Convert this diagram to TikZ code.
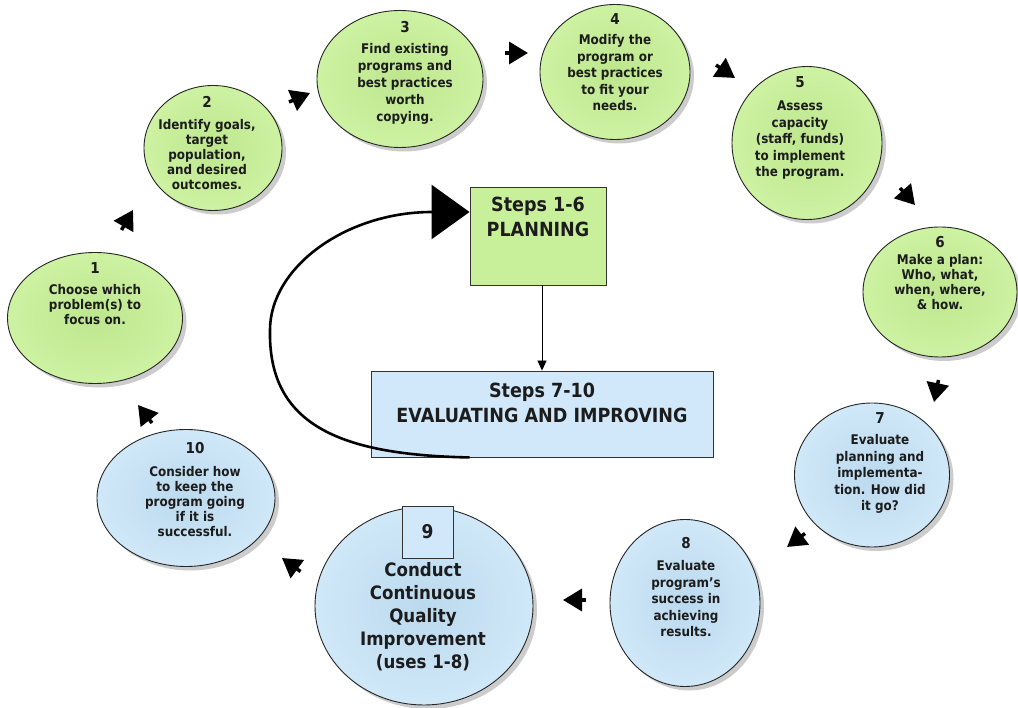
\documentclass[tikz,border=0pt]{standalone}
\usepackage{fontspec}
\setmainfont{DejaVu Sans}[FakeStretch=0.9]
\usetikzlibrary{arrows.meta,shadows,shapes.geometric,calc}
\definecolor{cgreen}{HTML}{CDF2A2}
\definecolor{cgreenin}{HTML}{BEE68E}
\definecolor{cblue}{HTML}{D0E8F8}
\definecolor{cbluein}{HTML}{BBD9EE}
\definecolor{bgreen}{HTML}{C8F09A}
\definecolor{bblue}{HTML}{D0E8F9}
\definecolor{txt}{HTML}{1C1C1C}
\tikzset{
  stepcircle/.style={ellipse, draw=black!85, line width=0.9pt, inner sep=0pt,
    drop shadow={opacity=0.4, shadow xshift=4pt, shadow yshift=-4pt}},
  greenc/.style={stepcircle, inner color=cgreenin, outer color=cgreen},
  bluec/.style={stepcircle, inner color=cbluein, outer color=cblue},
  steptext/.style={align=center, text=txt, inner sep=0pt},
  bigtext/.style={align=center, text=txt, inner sep=0pt,
    font=\bfseries\fontsize{19.5}{24.5}\selectfont},
  phasebox/.style={draw=black!80, line width=0.9pt, inner sep=0pt},
  flowtip/.style={line width=3.5pt, -{Triangle[length=19pt,width=22pt]}},
}
\newcommand{\stepnum}[1]{{\fontsize{15}{15}\selectfont #1}}
\begin{document}
\begin{tikzpicture}[x=1pt,y=-1pt]
\useasboundingbox (0,0) rectangle (1018,708);
\fill[white] (0,0) rectangle (1018,708);

% circles
\node[greenc, minimum width=175pt, minimum height=131pt] (c1) at (95,318) {};
\node[greenc, minimum width=138pt, minimum height=125pt] (c2) at (213,148) {};
\node[greenc, minimum width=166pt, minimum height=137pt] (c3) at (400,79) {};
\node[greenc, minimum width=150pt, minimum height=135pt] (c4) at (615,72) {};
\node[greenc, minimum width=150pt, minimum height=153pt] (c5) at (807,143) {};
\node[greenc, minimum width=154pt, minimum height=130pt] (c6) at (940,292) {};
\node[bluec, minimum width=155pt, minimum height=144pt] (c7) at (872,475) {};
\node[bluec, minimum width=150pt, minimum height=167pt] (c8) at (685,603) {};
\node[bluec, minimum width=218pt, minimum height=198pt] (c9) at (424,606) {};
\node[bluec, minimum width=178pt, minimum height=137pt] (c10) at (186,498) {};

% circle texts
\node[steptext, font=\bfseries\fontsize{13.3}{15}\selectfont] (t1) at (95,294)
  {\stepnum{1}\\[6pt]Choose which\\problem(s) to\\focus on.};
\node[steptext, font=\bfseries\fontsize{13.3}{15}\selectfont] (t2) at (207,143)
  {\stepnum{2}\\[7pt]Identify goals,\\target\\population,\\and desired\\outcomes.};
\node[steptext, font=\bfseries\fontsize{13.3}{17}\selectfont] (t3) at (405,73)
  {\stepnum{3}\\[4pt]Find existing\\programs and\\best practices\\worth\\copying.};
\node[steptext, font=\bfseries\fontsize{13.3}{16.5}\selectfont] (t4) at (615,62)
  {\stepnum{4}\\[4pt]Modify the\\program or\\best practices\\to fit your\\needs.};
\node[steptext, font=\bfseries\fontsize{13.3}{16.5}\selectfont] (t5) at (800,128)
  {\stepnum{5}\\[7pt]Assess\\capacity\\(staff, funds)\\to implement\\the program.};
\node[steptext, font=\bfseries\fontsize{13.3}{15}\selectfont] (t6) at (940,273)
  {\stepnum{6}\\[2pt]Make a plan:\\Who, what,\\when, where,\\\& how.};
\node[steptext, font=\bfseries\fontsize{13.3}{16.5}\selectfont] (t7) at (880,463)
  {\stepnum{7}\\[5pt]Evaluate\\planning and\\implementa-\\tion. How did\\it go?};
\node[steptext, font=\bfseries\fontsize{13.3}{16.5}\selectfont] (t8) at (686,587)
  {\stepnum{8}\\[6pt]Evaluate\\program's\\success in\\achieving\\results.};
\node[steptext, font=\bfseries\fontsize{13.3}{15}\selectfont] (t10) at (195,490)
  {\stepnum{10}\\[8pt]Consider how\\to keep the\\program going\\if it is\\successful.};
\node[steptext, font=\bfseries\fontsize{18.5}{23}\selectfont] (t9) at (423,617)
  {Conduct\\Continuous\\Quality\\Improvement\\(uses 1-8)};
\node[phasebox, fill=bblue, minimum width=51pt, minimum height=52pt,
      font=\bfseries\fontsize{19}{20}\selectfont, text=txt] (n9) at (427.5,532) {9};

% central boxes
\node[phasebox, fill=bgreen, minimum width=136pt, minimum height=98pt] (plan) at (538,236) {};
\node[bigtext] (plantext) at (538,217) {Steps 1-6\\PLANNING};
\node[phasebox, fill=bblue, minimum width=342pt, minimum height=86pt] (eval) at (542,414) {};
\node[bigtext] (evaltext) at (542,403) {Steps 7-10\\EVALUATING AND IMPROVING};

\draw[line width=0.9pt, -{Triangle[length=10pt,width=9pt]}]
  (plan.south -| eval.north) -- (eval.north);

% big return arrow
\coordinate (rs) at ([xshift=99pt]eval.south west);
\coordinate (re) at ([yshift=24pt]plan.west);
\draw[line width=2.6pt, -{Triangle[length=38pt,width=54pt]}]
  (rs) .. controls (340,455) and (268,425) .. (270,330)
       .. controls (270,268) and (345,212) .. (re);

% small flow arrowheads (short tail stub + head)
\draw[flowtip] (121.5,230) -- (133,210);
\draw[flowtip] (289,102) -- (310,93);
\draw[flowtip] (505,53) -- (528,53);
\draw[flowtip] (716,65) -- (735,78);
\draw[flowtip] (900,188) -- (915,205);
\draw[flowtip] (938.5,380) -- (934,402);
\draw[flowtip] (805,533.5) -- (787,547);
\draw[flowtip] (586,600) -- (563,600);
\draw[flowtip] (300.5,571.5) -- (282,558);
\draw[flowtip] (152,423) -- (138,405);
\end{tikzpicture}
\end{document}
